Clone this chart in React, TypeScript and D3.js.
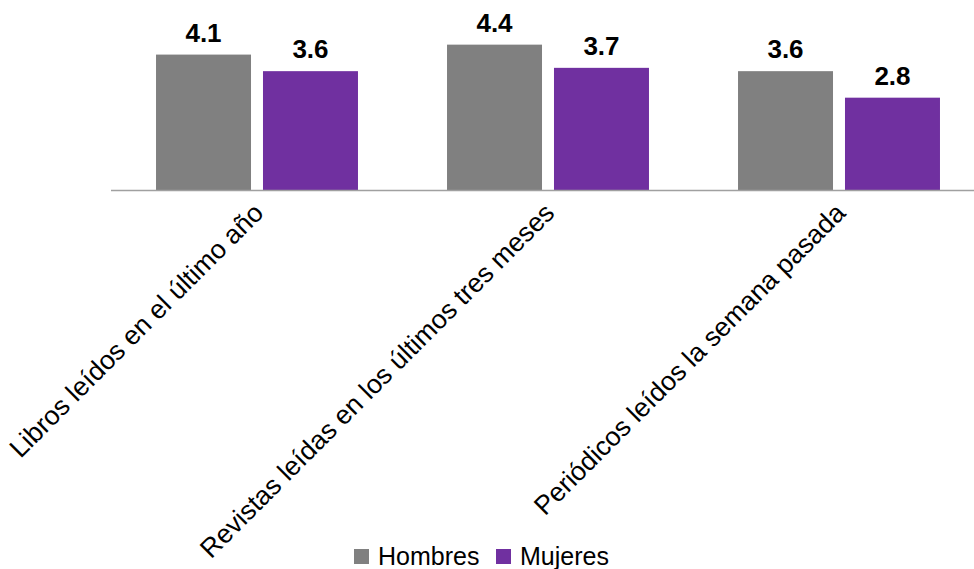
import React from "react";
import * as d3 from "d3";

const categories = [
  "Libros leídos en el último año",
  "Revistas leídas en los últimos tres meses",
  "Periódicos leídos la semana pasada",
];
const seriesNames = ["Hombres", "Mujeres"];
const hombres = [4.1, 4.4, 3.6];
const mujeres = [3.6, 3.7, 2.8];
const colors = ["#808080", "#7030A0"];

const W = 974;
const H = 569;
const FONT = "'Liberation Sans', Arial, sans-serif";

export default function App() {
  const x0 = d3.scaleBand<string>().domain(categories).range([111.5, 984.5]).paddingInner(0.306).paddingOuter(0.153);
  const x1 = d3.scaleBand<string>().domain(seriesNames).range([0, x0.bandwidth()]).paddingInner(0.112);
  const y = d3.scaleLinear().domain([0, 5]).range([190.5, 24.75]);
  const series = [hombres, mujeres];

  return (
    <svg width={W} height={H} style={{ position: "absolute", left: 0, top: 0, background: "#fff" }} fontFamily={FONT}>
      {categories.map((c, i) => (
        <g key={c} transform={`translate(${x0(c)},0)`}>
          {seriesNames.map((s, j) => {
            const v = series[j][i];
            const bx = x1(s)!;
            return (
              <g key={s}>
                <rect x={bx} y={y(v)} width={x1.bandwidth()} height={y(0) - y(v)} fill={colors[j]} />
                <text x={bx + x1.bandwidth() / 2} y={y(v) - 13} textAnchor="middle" fontSize={26} fontWeight="bold" fill="#000">
                  {v.toFixed(1)}
                </text>
              </g>
            );
          })}
        </g>
      ))}
      <line x1={111} x2={974} y1={y(0)} y2={y(0)} stroke="#a0a0a0" strokeWidth={1.5} />
      {categories.map((c) => {
        const cx = x0(c)! + x0.bandwidth() / 2;
        return (
          <text key={c} transform={`translate(${cx + 8},${y(0) + 24}) rotate(-45)`} textAnchor="end" fontSize={26.6} fill="#000">
            {c}
          </text>
        );
      })}
      {seriesNames.map((s, j) => {
        const lx = [354, 496][j];
        return (
          <g key={s}>
            <rect x={lx} y={549} width={15} height={15} fill={colors[j]} />
            <text x={lx + 24} y={564.5} fontSize={25} fill="#000">{s}</text>
          </g>
        );
      })}
    </svg>
  );
}
